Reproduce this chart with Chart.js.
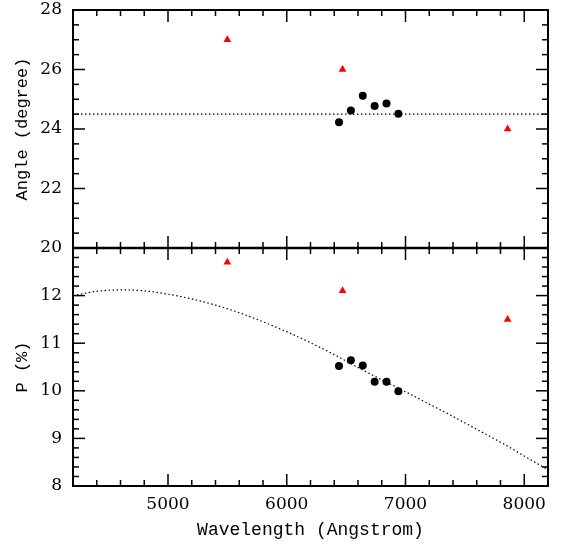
<!DOCTYPE html>
<html><head><meta charset="utf-8">
<script src="https://cdn.jsdelivr.net/npm/chart.js@4/dist/chart.umd.min.js"></script>
<style>html,body{margin:0;padding:0;background:#fff;} canvas{display:block;}</style>
</head><body>
<canvas id="c" width="564" height="544"></canvas>
<script>
// ---- data ----
const obsWavelength = [6440, 6540, 6640, 6740, 6840, 6940];
const obsAngle = [24.23, 24.62, 25.12, 24.77, 24.86, 24.51];
const obsP = [10.52, 10.64, 10.53, 10.19, 10.19, 9.99];

const litWavelength = [5500, 6470, 7860];
const litAngle = [27.0, 26.0, 24.0];
const litP = [12.7, 12.1, 11.5];

const meanAngleWavelength = [4200, 8200];
const meanAngle = [24.5, 24.5];

const fitWavelength = [4200, 4400, 4600, 4800, 5000, 5200, 5400, 5600, 5800, 6000, 6200,
                       6400, 6600, 6800, 7000, 7200, 7400, 7600, 7800, 8000, 8200];
const fitP = [12.00, 12.09, 12.12, 12.10, 12.03, 11.93, 11.80, 11.64, 11.45, 11.24, 11.01,
              10.76, 10.49, 10.23, 9.98, 9.72, 9.46, 9.19, 8.92, 8.63, 8.34];

const xMajorTicks = [5000, 6000, 7000, 8000];
const angleTicks = [20, 22, 24, 26, 28];
const pTicks = [8, 9, 10, 11, 12, 13];

const toPts = (xs, ys) => xs.map((x, i) => ({x: x, y: ys[i]}));

const tickFont = {family: 'DejaVu Serif', size: 17};
const titleFont = {family: 'Liberation Mono', size: 17};

function range(a, b, s) { const out = []; for (let v = a; v <= b + 1e-9; v += s) out.push(Math.round(v * 1000) / 1000); return out; }

const frameTicks = {
  id: 'frameTicks',
  afterDraw(chart) {
    const ctx = chart.ctx;
    const sx = chart.scales.x, sa = chart.scales.yA, sp = chart.scales.yP;
    const L = sx.left, R = sx.right;
    const MAJ = 12, MIN = 6;
    ctx.save();
    ctx.strokeStyle = '#000';
    ctx.lineWidth = 1.5;
    const line = (x1, y1, x2, y2) => { ctx.beginPath(); ctx.moveTo(x1, y1); ctx.lineTo(x2, y2); ctx.stroke(); };
    const xMin = range(4200, 8200, 200);
    const edges = [[sa.top, 1], [sa.bottom, -1], [sp.top, 1], [sp.bottom, -1]];
    xMin.forEach(v => {
      const px = sx.getPixelForValue(v);
      const len = xMajorTicks.includes(v) ? MAJ : MIN;
      edges.forEach(([y, d]) => line(px, y, px, y + d * len));
    });
    const yDraw = (scale, minors, majors) => {
      minors.forEach(v => {
        const py = scale.getPixelForValue(v);
        const len = majors.includes(v) ? MAJ : MIN;
        line(L, py, L + len, py);
        line(R, py, R - len, py);
      });
    };
    yDraw(sa, range(20, 28, 0.5), angleTicks);
    yDraw(sp, range(8, 13, 0.2), pTicks);
    ctx.lineWidth = 2;
    ctx.strokeRect(L, sa.top, R - L, sp.bottom - sa.top);
    ctx.lineWidth = 2.5;
    line(L, sa.bottom, R, sa.bottom);
    ctx.restore();
  }
};

const fitY = s => { s.width = 73; s.paddingTop = 0; s.paddingBottom = 0; };

new Chart(document.getElementById('c'), {
  type: 'scatter',
  data: {
    datasets: [
      {data: toPts(meanAngleWavelength, meanAngle), yAxisID: 'yA', showLine: true, pointRadius: 0,
       borderColor: '#000', borderWidth: 1.2, borderDash: [1.5, 2.5], order: 3},
      {data: toPts(fitWavelength, fitP), yAxisID: 'yP', showLine: true, pointRadius: 0,
       cubicInterpolationMode: 'monotone',
       borderColor: '#000', borderWidth: 1.2, borderDash: [1.5, 2.5], order: 3},
      {data: toPts(obsWavelength, obsAngle), yAxisID: 'yA', pointRadius: 4, pointStyle: 'circle',
       backgroundColor: '#000', borderColor: '#000', borderWidth: 0, order: 1},
      {data: toPts(obsWavelength, obsP), yAxisID: 'yP', pointRadius: 4, pointStyle: 'circle',
       backgroundColor: '#000', borderColor: '#000', borderWidth: 0, order: 1},
      {data: toPts(litWavelength, litAngle), yAxisID: 'yA', pointRadius: 4.5, pointStyle: 'triangle',
       backgroundColor: '#ff0000', borderColor: '#ff0000', borderWidth: 0, order: 1},
      {data: toPts(litWavelength, litP), yAxisID: 'yP', pointRadius: 4.5, pointStyle: 'triangle',
       backgroundColor: '#ff0000', borderColor: '#ff0000', borderWidth: 0, order: 1}
    ]
  },
  options: {
    responsive: false,
    animation: false,
    events: [],
    layout: {padding: {top: 10, right: 16, left: 0, bottom: 0}},
    plugins: {legend: {display: false}, tooltip: {enabled: false}},
    scales: {
      x: {
        type: 'linear', min: 4200, max: 8200,
        afterBuildTicks: s => { s.ticks = xMajorTicks.map(v => ({value: v})); },
        afterFit: s => { s.height = 58; s.paddingLeft = 0; s.paddingRight = 0; },
        grid: {display: false, drawTicks: false},
        border: {display: false},
        ticks: {font: tickFont, color: '#000', padding: 8, maxRotation: 0, callback: v => String(v)},
        title: {display: true, text: 'Wavelength (Angstrom)', color: '#000',
                font: {family: 'Liberation Mono', size: 18}, padding: {top: 0, bottom: 3}}
      },
      yP: {
        type: 'linear', position: 'left', stack: 'panels', stackWeight: 1, min: 8, max: 13,
        afterBuildTicks: s => { s.ticks = pTicks.map(v => ({value: v})); },
        afterFit: fitY,
        grid: {display: false, drawTicks: false},
        border: {display: false},
        ticks: {font: tickFont, color: '#000', padding: 11, callback: v => v === 13 ? '' : String(v)},
        title: {display: true, text: 'P (%)', color: '#000', font: titleFont, padding: {top: 12, bottom: 0}}
      },
      yA: {
        type: 'linear', position: 'left', stack: 'panels', stackWeight: 1, min: 20, max: 28,
        afterBuildTicks: s => { s.ticks = angleTicks.map(v => ({value: v})); },
        afterFit: fitY,
        grid: {display: false, drawTicks: false},
        border: {display: false},
        ticks: {font: tickFont, color: '#000', padding: 11, callback: v => String(v)},
        title: {display: true, text: 'Angle (degree)', color: '#000', font: titleFont, padding: {top: 12, bottom: 0}}
      }
    }
  },
  plugins: [frameTicks]
});
</script>
</body></html>
